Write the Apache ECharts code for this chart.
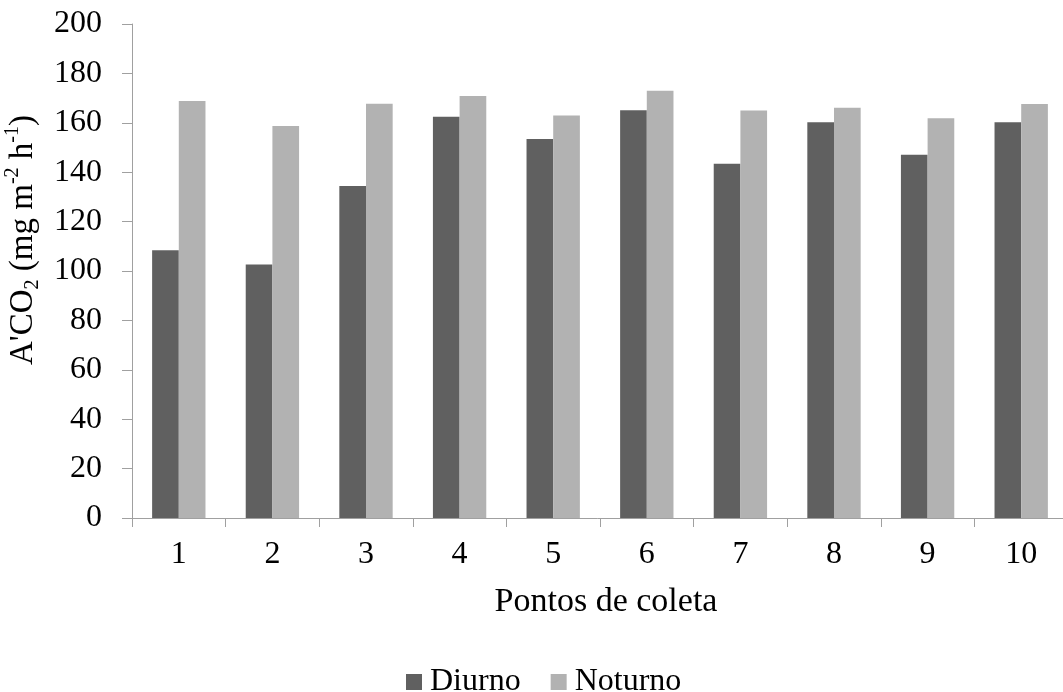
<!DOCTYPE html>
<html>
<head>
<meta charset="utf-8">
<script src="https://cdn.jsdelivr.net/npm/echarts@6/dist/echarts.min.js"></script>
<style>html,body{margin:0;padding:0;background:#fff}#c{width:1063px;height:692px}</style>
</head>
<body>
<div id="c"></div>
<script>
const categories = ['1','2','3','4','5','6','7','8','9','10'];
const diurno = [108.4, 102.6, 134.4, 162.5, 153.4, 165.1, 143.4, 160.2, 147.1, 160.2];
const noturno = [168.8, 158.7, 167.7, 170.9, 163.0, 173.0, 165.0, 166.1, 161.8, 167.6];
const seriesNames = ['Diurno', 'Noturno'];
const xName = 'Pontos de coleta';

const FONT = 'Liberation Serif';
const AX = '#a0a0a0';
const chart = echarts.init(document.getElementById('c'), null, {renderer: 'canvas'});
chart.setOption({
  animation: false,
  backgroundColor: '#fff',
  textStyle: {fontFamily: FONT, color: '#000'},
  grid: {left: 132, right: -5, top: 24, bottom: 174, containLabel: false, outerBoundsMode: 'none'},
  legend: {
    data: seriesNames,
    left: 401, top: 661,
    itemWidth: 16, itemHeight: 16, itemGap: 30,
    icon: 'rect',
    textStyle: {fontFamily: FONT, fontSize: 32, color: '#000', padding: [0, 0, 0, 3]}
  },
  xAxis: {
    type: 'category',
    data: categories,
    name: xName,
    nameLocation: 'middle',
    nameGap: 67,
    nameTextStyle: {fontFamily: FONT, fontSize: 34, color: '#000', verticalAlign: 'top', padding: [0, 0, 0, 12]},
    axisLine: {lineStyle: {color: AX, width: 1}},
    axisTick: {show: true, length: 9, lineStyle: {color: AX}, alignWithLabel: false},
    axisLabel: {fontFamily: FONT, fontSize: 32, color: '#000', margin: 21},
    splitLine: {show: false}
  },
  yAxis: {
    type: 'value',
    min: 0, max: 200, interval: 20,
    name: "{m|A'CO}{sub|2}{m| (mg m}{sup|-2}{m| h}{sup|-1}{m|)}",
    nameLocation: 'middle',
    nameRotate: 90,
    nameGap: 88,
    nameTextStyle: {
      fontFamily: FONT, fontSize: 32, color: '#000',
      padding: [0, 0, 0, 62],
      rich: {
        m: {fontFamily: FONT, fontSize: 33, color: '#000', lineHeight: 40},
        sub: {fontFamily: FONT, fontSize: 20, color: '#000', verticalAlign: 'bottom', lineHeight: 40},
        sup: {fontFamily: FONT, fontSize: 20, color: '#000', verticalAlign: 'top', lineHeight: 40}
      }
    },
    axisLine: {show: true, lineStyle: {color: AX, width: 1}},
    axisTick: {show: true, length: 10, lineStyle: {color: AX}},
    axisLabel: {fontFamily: FONT, fontSize: 32, color: '#000', margin: 30},
    splitLine: {show: false}
  },
  series: [
    {name: seriesNames[0], type: 'bar', data: diurno, barGap: '0%', barCategoryGap: '43%',
     itemStyle: {color: '#606060'}},
    {name: seriesNames[1], type: 'bar', data: noturno, barGap: '0%', barCategoryGap: '43%',
     itemStyle: {color: '#b2b2b2'}}
  ]
});
</script>
</body>
</html>
